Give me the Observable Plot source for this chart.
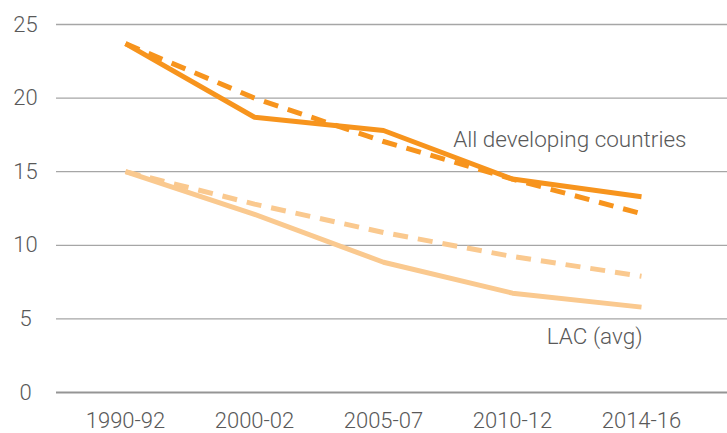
<!DOCTYPE html>
<html>
<head>
<meta charset="utf-8">
<script src="https://cdn.jsdelivr.net/npm/d3@7"></script>
<script src="https://cdn.jsdelivr.net/npm/@observablehq/plot@0.6"></script>
<style>
  html, body { margin: 0; padding: 0; background: #ffffff; }
</style>
</head>
<body>
<div id="chart"></div>
<script>
// Periods on the x axis
const periods = ["1990-92", "2000-02", "2005-07", "2010-12", "2014-16"];

// Prevalence of undernourishment (%), all developing countries
const developingActual = [23.7, 18.7, 17.8, 14.5, 13.3];
const developingTarget = [23.7, 20.0, 17.05, 14.5, 12.15];

// Prevalence of undernourishment (%), Latin America and the Caribbean average
const lacActual = [15.0, 12.1, 8.85, 6.75, 5.8];
const lacTarget = [15.0, 12.8, 10.87, 9.24, 7.9];

// Y axis ticks and series labels
const yTicks = [0, 5, 10, 15, 20, 25];
const seriesLabels = ["All developing countries", "LAC (avg)"];

const darkOrange = "#f7941d";
const lightOrange = "#fac98f";
const textGrey = "#595959";

const toRows = (values) => periods.map((p, i) => ({period: p, value: values[i]}));

const lineStyle = (color, dashed) => ({
  x: "period",
  y: "value",
  stroke: color,
  strokeWidth: 5,
  strokeLinecap: "butt",
  strokeLinejoin: "miter",
  strokeDasharray: dashed ? "15,10" : null
});

const lastOf = (values) => ({period: periods[periods.length - 1], value: values[values.length - 1]});

const chart = Plot.plot({
  width: 727,
  height: 433,
  marginLeft: 56,
  marginRight: 0,
  marginTop: 24,
  marginBottom: 41,
  style: {fontFamily: "Roboto, sans-serif", fontSize: "22px", fontWeight: 300, background: "#ffffff"},
  x: {type: "point", domain: periods, range: [123, 642], padding: 0, label: null},
  y: {domain: [0, 25], label: null},
  marks: [
    Plot.ruleY(yTicks.filter(t => t > 0), {stroke: "#a6a6a6", strokeWidth: 1.3}),
    Plot.ruleY([0], {stroke: "#959595", strokeWidth: 2.2}),
    Plot.axisY({ticks: yTicks, tickSize: 0, tickPadding: 31, textAnchor: "middle", fill: textGrey, fontSize: 22, label: null}),
    Plot.axisX({tickSize: 0, tickPadding: 20, fill: textGrey, fontSize: 22, label: null}),
    Plot.line(toRows(lacTarget), lineStyle(lightOrange, true)),
    Plot.line(toRows(lacActual), lineStyle(lightOrange, false)),
    Plot.line(toRows(developingTarget), lineStyle(darkOrange, true)),
    Plot.line(toRows(developingActual), lineStyle(darkOrange, false)),
    Plot.text([lastOf(developingActual)], {
      x: "period", y: "value", text: () => seriesLabels[0],
      textAnchor: "end", lineAnchor: "middle", dx: 45, dy: -57, fill: textGrey, fontSize: 22.5
    }),
    Plot.text([lastOf(lacActual)], {
      x: "period", y: "value", text: () => seriesLabels[1],
      textAnchor: "end", lineAnchor: "middle", dx: 1, dy: 30, fill: textGrey, fontSize: 22.5
    })
  ]
});

document.getElementById("chart").appendChild(chart);
</script>
</body>
</html>
